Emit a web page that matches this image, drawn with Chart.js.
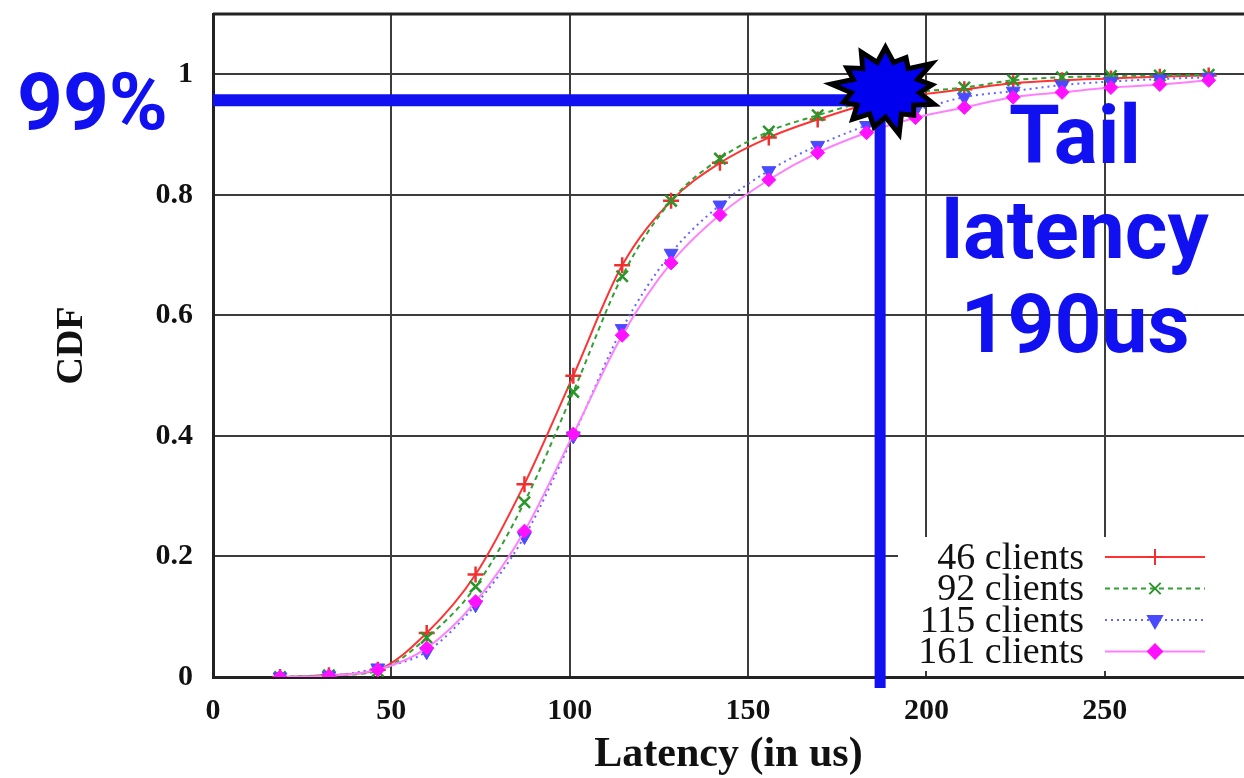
<!DOCTYPE html>
<html>
<head>
<meta charset="utf-8">
<script src="https://cdn.jsdelivr.net/npm/chart.js@4/dist/chart.umd.min.js"></script>
<style>
  html, body { margin: 0; padding: 0; background: #fff; }
  #wrap { width: 1244px; height: 778px; }
</style>
</head>
<body>
<div id="wrap"><canvas id="cdf-chart" width="1244" height="778"></canvas></div>
<script>
// latency (us) of each marked sample
var latency = [18.8, 32.5, 46.2, 59.9, 73.6, 87.3, 101.0, 114.7, 128.4, 142.1,
               155.8, 169.5, 183.2, 196.9, 210.6, 224.3, 238.0, 251.7, 265.4, 279.1];
var cdf46  = [0.0, 0.003, 0.012, 0.073, 0.17, 0.32, 0.50, 0.683, 0.79, 0.853,
              0.895, 0.925, 0.95, 0.965, 0.975, 0.985, 0.99, 0.993, 0.996, 0.998];
var cdf92  = [0.0, 0.003, 0.010, 0.065, 0.15, 0.29, 0.473, 0.665, 0.79, 0.86,
              0.905, 0.932, 0.955, 0.97, 0.978, 0.99, 0.995, 0.997, 0.998, 0.999];
var cdf115 = [0.0, 0.002, 0.015, 0.042, 0.12, 0.233, 0.40, 0.578, 0.703, 0.783,
              0.84, 0.882, 0.915, 0.94, 0.962, 0.972, 0.982, 0.988, 0.992, 0.995];
var cdf161 = [0.0, 0.002, 0.012, 0.048, 0.125, 0.242, 0.403, 0.567, 0.687, 0.767,
              0.825, 0.87, 0.903, 0.928, 0.945, 0.962, 0.97, 0.978, 0.983, 0.99];
var seriesLabels = ['46 clients', '92 clients', '115 clients', '161 clients'];

var xTicks = [0, 50, 100, 150, 200, 250];
var yTicks = [0, 0.2, 0.4, 0.6, 0.8, 1];
var yTickLabels = ['0', '0.2', '0.4', '0.6', '0.8', '1'];

// the hand drawn "tail latency" marker
var tailLatency = 187;
var tailLevel = 0.957;
var starAt = {x: 188.5, y: 0.975};
var noteLeft = '99%';
var noteRight = ['Tail', 'latency', '190us'];

var BLUE = '#1010f0';
var serif = "'Liberation Serif', 'Times New Roman', serif";

function pts(ys) {
    return ys.map(function (v, i) { return {x: latency[i], y: v}; });
}

function noPad(s) {
    s.paddingTop = 0; s.paddingBottom = 0; s.paddingLeft = 0; s.paddingRight = 0;
}

var extras = {
    id: 'extras',
    afterDatasetsDraw: function (chart) {
        var ctx = chart.ctx, a = chart.chartArea;
        var xs = chart.scales.x, ys = chart.scales.y;
        ctx.save();

        // top frame line
        ctx.strokeStyle = '#222';
        ctx.lineWidth = 3;
        ctx.beginPath();
        ctx.moveTo(a.left, a.top);
        ctx.lineTo(a.right, a.top);
        ctx.stroke();

        // key box (opaque, like gnuplot)
        ctx.fillStyle = '#fff';
        ctx.fillRect(a.right - 346, a.bottom - 140, 346, 134);
        ctx.font = '38px ' + serif;
        ctx.textAlign = 'right';
        ctx.textBaseline = 'middle';
        chart.data.datasets.forEach(function (ds, i) {
            var yy = a.bottom - 120 + i * 31.5;
            ctx.fillStyle = '#111';
            ctx.fillText(ds.label, a.right - 160, yy + 2);
            ctx.strokeStyle = ds.borderColor;
            ctx.lineWidth = ds.borderWidth;
            ctx.setLineDash(ds.borderDash || []);
            ctx.beginPath();
            ctx.moveTo(a.right - 139, yy);
            ctx.lineTo(a.right - 39, yy);
            ctx.stroke();
            ctx.setLineDash([]);
            ctx.fillStyle = ds.pointBackgroundColor;
            ctx.strokeStyle = ds.pointBorderColor;
            Chart.helpers.drawPoint(ctx, {
                pointStyle: ds.pointStyle, rotation: ds.pointRotation || 0,
                radius: ds.pointRadius, borderWidth: ds.pointBorderWidth
            }, a.right - 89, yy);
        });

        // blue 99% / tail lines
        var tx = xs.getPixelForValue(tailLatency);
        var ty = ys.getPixelForValue(tailLevel);
        ctx.strokeStyle = BLUE;
        ctx.lineCap = 'butt';
        ctx.lineWidth = 12;
        ctx.beginPath();
        ctx.moveTo(a.left, ty);
        ctx.lineTo(tx, ty);
        ctx.stroke();
        ctx.lineWidth = 11;
        ctx.beginPath();
        ctx.moveTo(tx, ty);
        ctx.lineTo(tx, a.bottom + 11);
        ctx.stroke();

        // spiky star
        var cx = xs.getPixelForValue(starAt.x), cy = ys.getPixelForValue(starAt.y);
        var spikes = [1, 0.85, 1.08, 0.9, 1.0, 0.82, 1.1, 0.92, 0.95, 0.86, 1.05, 0.9, 1.0];
        var n = spikes.length;
        ctx.beginPath();
        for (var i = 0; i < n * 2; i++) {
            var ang = -Math.PI / 2 + i * Math.PI / n;
            var r = i % 2 === 0 ? spikes[i / 2] : 0.66;
            var px = cx + Math.cos(ang) * 52 * r, py = cy + Math.sin(ang) * 42 * r;
            if (i === 0) ctx.moveTo(px, py); else ctx.lineTo(px, py);
        }
        ctx.closePath();
        ctx.fillStyle = '#0000ee';
        ctx.fill();
        ctx.lineWidth = 5;
        ctx.lineJoin = 'miter';
        ctx.strokeStyle = '#000';
        ctx.stroke();

        // notes
        ctx.fillStyle = BLUE;
        ctx.textBaseline = 'alphabetic';
        ctx.font = 'bold 80px Roboto, sans-serif';
        ctx.textAlign = 'left';
        ctx.fillText(noteLeft, 17, ty + 29);
        ctx.textAlign = 'center';
        ctx.font = 'bold 82px Roboto, sans-serif';
        noteRight.forEach(function (t, i) {
            ctx.fillText(t, a.right - 169, a.top + 149 + i * 94.5);
        });
        ctx.restore();
    }
};

var ctx = document.getElementById('cdf-chart').getContext('2d');
var myChart = new Chart(ctx, {
    type: 'line',
    data: {
        datasets: [{
            label: seriesLabels[0],
            data: pts(cdf46),
            borderColor: '#ff3333',
            borderWidth: 2,
            pointStyle: 'cross',
            pointRadius: 8,
            pointBorderWidth: 2.5,
            pointBorderColor: '#f03030',
            pointBackgroundColor: '#f03030',
            cubicInterpolationMode: 'monotone',
            order: 4
        }, {
            label: seriesLabels[1],
            data: pts(cdf92),
            borderColor: '#33a033',
            borderWidth: 2,
            borderDash: [5, 4],
            pointStyle: 'crossRot',
            pointRadius: 8,
            pointBorderWidth: 2.5,
            pointBorderColor: '#2a962a',
            pointBackgroundColor: '#2a962a',
            cubicInterpolationMode: 'monotone',
            order: 3
        }, {
            label: seriesLabels[2],
            data: pts(cdf115),
            borderColor: '#6464ff',
            borderWidth: 2,
            borderDash: [2, 4],
            pointStyle: 'triangle',
            pointRotation: 180,
            pointRadius: 8,
            pointBorderWidth: 1,
            pointBorderColor: '#4a4aff',
            pointBackgroundColor: '#4a4aff',
            cubicInterpolationMode: 'monotone',
            order: 2
        }, {
            label: seriesLabels[3],
            data: pts(cdf161),
            borderColor: '#ff80ff',
            borderWidth: 2,
            pointStyle: 'rectRot',
            pointRadius: 7,
            pointBorderWidth: 1,
            pointBorderColor: '#ff10ff',
            pointBackgroundColor: '#ff10ff',
            cubicInterpolationMode: 'monotone',
            order: 1
        }]
    },
    options: {
        responsive: false,
        animation: false,
        devicePixelRatio: 1,
        layout: { autoPadding: false, padding: { top: 14, left: 0, right: 0, bottom: 0 } },
        plugins: { legend: { display: false }, tooltip: { enabled: false } },
        scales: {
            x: {
                type: 'linear',
                min: 0,
                max: 289,
                afterBuildTicks: function (s) { s.ticks = xTicks.map(function (v) { return {value: v}; }); },
                afterFit: function (s) { s.height = 101; noPad(s); },
                ticks: {
                    padding: 16,
                    color: '#111',
                    font: { family: serif, size: 30, weight: 'bold' },
                    callback: function (v) { return String(v); }
                },
                grid: { color: '#3c3c3c', lineWidth: 2, drawTicks: false },
                border: { color: '#222', width: 3 },
                title: {
                    display: true,
                    text: 'Latency (in us)',
                    color: '#111',
                    font: { family: serif, size: 42, weight: 'bold', lineHeight: 1 },
                    padding: { top: 0, bottom: 2 }
                }
            },
            y: {
                min: 0,
                max: 1.1,
                afterBuildTicks: function (s) { s.ticks = yTicks.map(function (v) { return {value: v}; }); },
                afterFit: function (s) { s.width = 213; noPad(s); },
                ticks: {
                    padding: 20,
                    color: '#111',
                    font: { family: serif, size: 30, weight: 'bold' },
                    callback: function (v, i) { return yTickLabels[i]; }
                },
                grid: { color: '#3c3c3c', lineWidth: 2, drawTicks: false },
                border: { color: '#222', width: 3 },
                title: {
                    display: true,
                    text: 'CDF',
                    color: '#111',
                    font: { family: serif, size: 38, weight: 'bold', lineHeight: 1 },
                    padding: { top: 53, bottom: 0 }
                }
            }
        }
    },
    plugins: [extras]
});
</script>
</body>
</html>
